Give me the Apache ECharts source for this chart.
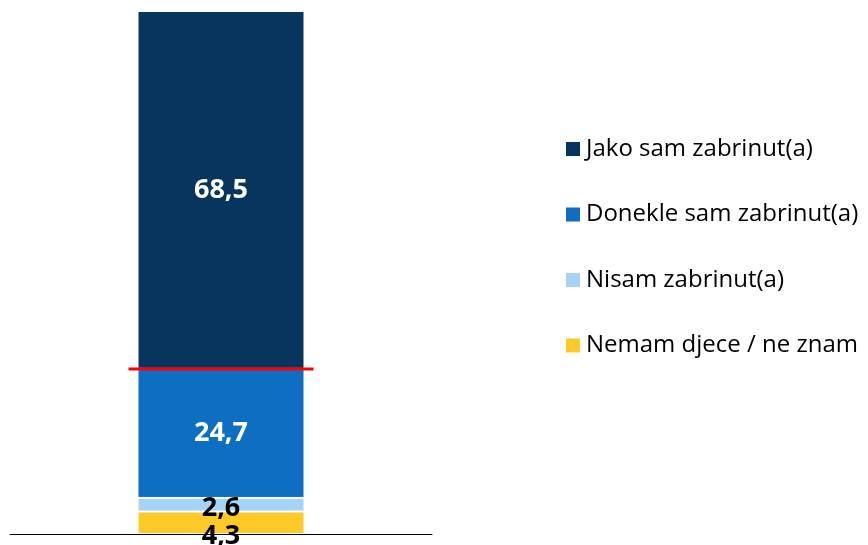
<!DOCTYPE html>
<html><head><meta charset="utf-8">
<script src="https://cdn.jsdelivr.net/npm/echarts@6/dist/echarts.min.js"></script>
<style>html,body{margin:0;padding:0;background:#fff}#c{width:868px;height:545px}</style>
</head><body><div id="c"></div>
<script>
const categories = [''];
const seriesNames = ['Nemam djece / ne znam', 'Nisam zabrinut(a)', 'Donekle sam zabrinut(a)', 'Jako sam zabrinut(a)'];
const nemam = [4.3];
const nisam = [2.6];
const donekle = [24.7];
const jako = [68.5];
const legendOrder = ['Jako sam zabrinut(a)', 'Donekle sam zabrinut(a)', 'Nisam zabrinut(a)', 'Nemam djece / ne znam'];
const redLineValue = [31.6];

const colors = ['#FFCA28', '#A7D3F7', '#0E6EC2', '#08355E'];
const labelColors = ['#000', '#000', '#fff', '#fff'];
const labelOffsets = [[0, 14], [0, 4], [0, 0], [0, 0]];
const values = [nemam, nisam, donekle, jako];
const fmt = p => String(p.value).replace('.', ',');
const BW = 167;

const series = values.map((v, i) => ({
  name: seriesNames[i], type: 'bar', stack: 'a', data: v, barWidth: BW,
  itemStyle: { color: colors[i], borderColor: '#fff', borderWidth: 1 },
  label: { show: true, position: 'inside', formatter: fmt, color: labelColors[i],
    fontFamily: 'Open Sans', fontWeight: 'bold', fontSize: 27, offset: labelOffsets[i] },
  emphasis: { disabled: true }
}));
series.push({
  type: 'custom', name: 'redline', data: redLineValue.map((v, i) => [i, v]), z: 10,
  renderItem: (params, api) => {
    const p = api.coord([api.value(0), api.value(1)]);
    const half = BW / 2 + 9;
    return { type: 'line', shape: { x1: p[0] - half, y1: p[1], x2: p[0] + half, y2: p[1] },
      style: { stroke: '#FF0000', lineWidth: 3 } };
  }
});

const chart = echarts.init(document.getElementById('c'));
chart.setOption({
  animation: false,
  color: colors,
  grid: { left: 10, right: 436, top: 11, bottom: 11, containLabel: false },
  xAxis: { type: 'category', data: categories, axisLine: { show: true, lineStyle: { color: '#000', width: 1 } },
    axisTick: { show: false }, axisLabel: { show: false } },
  yAxis: { type: 'value', min: 0, max: 100.1, show: false, splitLine: { show: false } },
  legend: {
    orient: 'vertical', left: 564, top: 137, padding: 0, data: legendOrder, icon: 'rect',
    itemWidth: 16, itemHeight: 16, itemGap: 41.5,
    textStyle: { fontFamily: 'Open Sans', fontSize: 24, color: '#000', padding: [0, 0, 0, 0] }
  },
  series
});
</script></body></html>
